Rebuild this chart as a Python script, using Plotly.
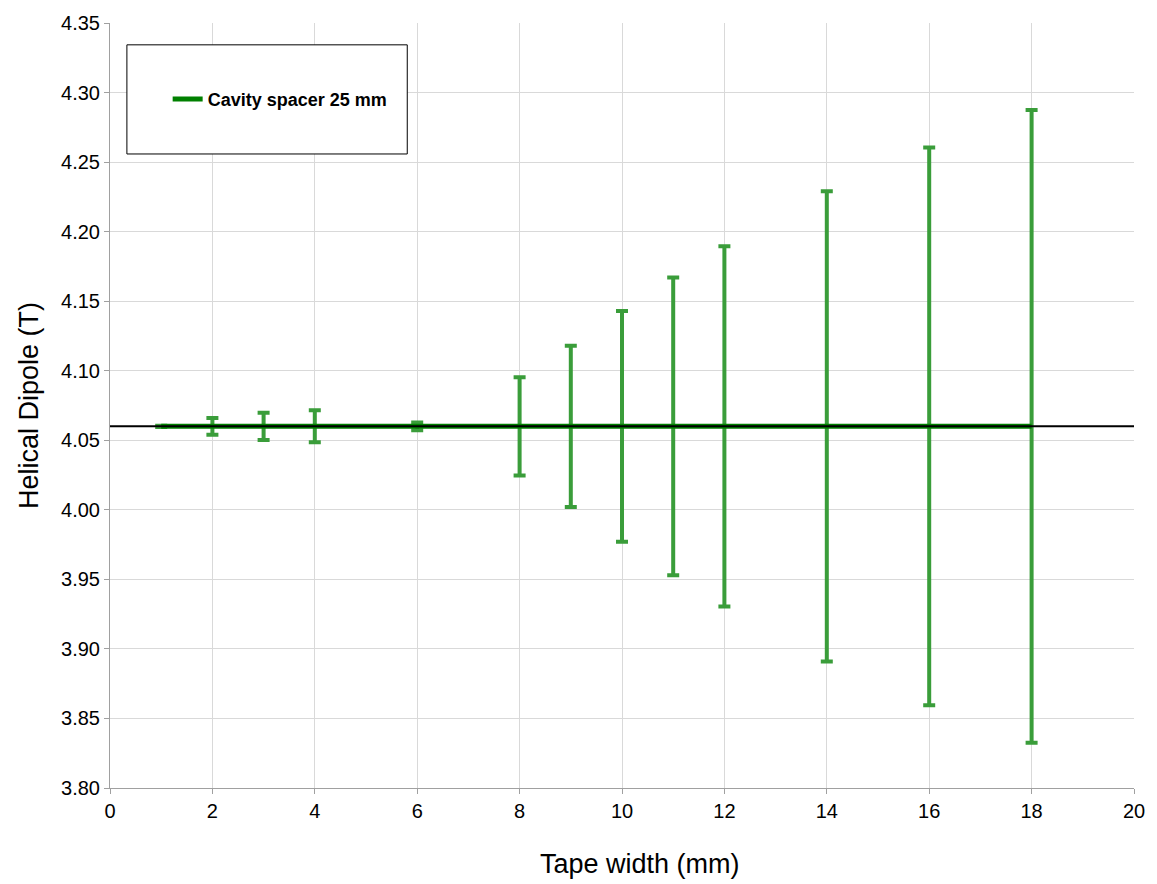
import plotly.graph_objects as go

tape_width = [1, 2, 3, 4, 6, 8, 9, 10, 11, 12, 14, 16, 18]
dipole = [4.06] * 13
dipole_err = [0.0005, 0.006, 0.0098, 0.0115, 0.0028, 0.0354, 0.058, 0.083,
              0.107, 0.1295, 0.169, 0.2005, 0.2275]
ref_x = [0, 20]
ref_y = [4.06, 4.06]

fig = go.Figure()
fig.add_trace(go.Scatter(
    x=tape_width, y=dipole, mode="lines",
    name="<b>Cavity spacer 25 mm</b>",
    line=dict(color="#008000", width=5),
    error_y=dict(type="data", array=dipole_err, visible=True,
                 color="#3a9d3a", thickness=4, width=6),
))
fig.add_trace(go.Scatter(
    x=ref_x, y=ref_y, mode="lines", showlegend=False,
    line=dict(color="black", width=2),
))

L, R, T, B = 110, 17, 17, 96
px0, px1, py0, py1 = L, 1157 - R, T, 884 - B
def fx(p):
    return (p - px0) / (px1 - px0)
def fy(p):
    return (py1 - p) / (py1 - py0)

fig.add_shape(type="rect", xref="paper", yref="paper",
              x0=fx(127), x1=fx(409), y0=fy(149), y1=fy(39),
              line=dict(color="black", width=1), fillcolor="white", layer="above")

fig.add_annotation(text="Tape width (mm)", xref="paper", yref="paper",
                   x=fx(643), y=fy(865), showarrow=False,
                   xanchor="center", yanchor="middle", font=dict(size=27))

fig.update_layout(
    width=1157, height=884,
    margin=dict(l=L, r=R, t=T, b=B),
    plot_bgcolor="white", paper_bgcolor="white",
    font=dict(family="Liberation Sans, Arial", size=20, color="black"),
    showlegend=True,
    legend=dict(x=fx(168), y=fy(94), xanchor="left", yanchor="middle",
                bgcolor="rgba(0,0,0,0)", borderwidth=0,
                font=dict(size=18, color="black")),
    xaxis=dict(range=[0, 20], dtick=2, tick0=0, showgrid=True, gridcolor="#d9d9d9",
               showline=True, linecolor="#a0a0a0", ticks="outside", ticklen=5,
               tickcolor="#a0a0a0", zeroline=False, tickfont=dict(size=20)),
    yaxis=dict(range=[3.80, 4.35], dtick=0.05, tick0=3.80, tickformat=".2f",
               showgrid=True, gridcolor="#d9d9d9",
               showline=True, linecolor="#a0a0a0", ticks="outside", ticklen=5,
               tickcolor="#a0a0a0", zeroline=False, tickfont=dict(size=20),
               title=dict(text="Helical Dipole (T)", font=dict(size=27), standoff=14)),
)

fig.write_html("out.html")
